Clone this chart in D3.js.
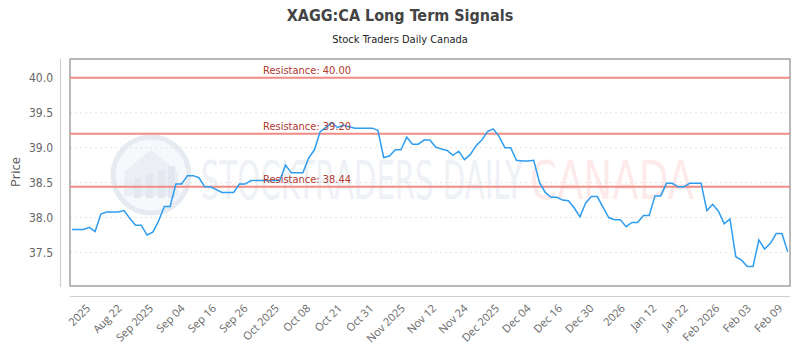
<!DOCTYPE html>
<html>
<head>
<meta charset="utf-8">
<script src="https://d3js.org/d3.v7.min.js"></script>
<style>
  body { margin: 0; background: #fff; }
  .title { font-family: "DejaVu Sans Condensed", "DejaVu Sans", sans-serif; font-weight: bold; font-size: 16px; fill: #444; text-anchor: middle; }
  .subtitle { font-family: "DejaVu Sans Condensed", "DejaVu Sans", sans-serif; font-size: 11px; fill: #222; text-anchor: middle; }
  .ytick { font-family: "DejaVu Sans Condensed", "DejaVu Sans", sans-serif; font-size: 12px; fill: #666; text-anchor: end; }
  .xtick { font-family: "Open Sans", sans-serif; font-size: 11px; fill: #666; text-anchor: end; }
  .ylabel { font-family: "Open Sans", sans-serif; font-size: 13px; fill: #555; text-anchor: middle; }
  .res-label { font-family: "DejaVu Sans Condensed", "DejaVu Sans", sans-serif; font-size: 11px; fill: #b03a2e; }
  .wm { font-family: "DejaVu Sans Condensed", "DejaVu Sans", sans-serif; font-size: 54px; }
</style>
</head>
<body>
<script>
// closing prices, one per trading day
var prices = [
  37.83, 37.83, 37.83, 37.86, 37.80, 38.05, 38.08, 38.08, 38.08, 38.10,
  37.99, 37.89, 37.89, 37.75, 37.79, 37.95, 38.16, 38.16, 38.48, 38.48,
  38.60, 38.60, 38.57, 38.44, 38.44, 38.40, 38.36, 38.36, 38.36, 38.48,
  38.48, 38.53, 38.53, 38.53, 38.53, 38.53, 38.53, 38.75, 38.64, 38.64,
  38.64, 38.85, 38.97, 39.23, 39.29, 39.36, 39.29, 39.32, 39.30, 39.28,
  39.28, 39.28, 39.28, 39.25, 38.86, 38.88, 38.97, 38.97, 39.15, 39.05,
  39.05, 39.11, 39.11, 39.01, 38.98, 38.96, 38.89, 38.95, 38.83, 38.90,
  39.03, 39.11, 39.23, 39.27, 39.16, 39.00, 39.00, 38.82, 38.81, 38.81,
  38.82, 38.50, 38.36, 38.29, 38.29, 38.25, 38.24, 38.14, 38.01, 38.21,
  38.30, 38.30, 38.15, 38.00, 37.97, 37.97, 37.87, 37.93, 37.93, 38.03,
  38.03, 38.31, 38.31, 38.49, 38.49, 38.44, 38.44, 38.49, 38.49, 38.49,
  38.10, 38.19, 38.09, 37.91, 37.98, 37.44, 37.39, 37.30, 37.30, 37.68,
  37.55, 37.63, 37.77, 37.77, 37.51
];

var resistance = [40.00, 39.20, 38.44];
var yTicks = [37.5, 38.0, 38.5, 39.0, 39.5, 40.0];
var xTickLabels = [
  "2025", "Aug 22", "Sep 2025", "Sep 04", "Sep 16", "Sep 26", "Oct 2025", "Oct 08",
  "Oct 21", "Oct 31", "Nov 2025", "Nov 12", "Nov 24", "Dec 2025", "Dec 04", "Dec 16",
  "Dec 30", "2026", "Jan 12", "Jan 22", "Feb 2026", "Feb 03", "Feb 09"
];
// first and last labelled tick, as a position along the trading days
var xTickSpan = [3.3, 123.2];

var width = 800, height = 350;
var plot = { left: 70, right: 790, top: 59, bottom: 286 };

var svg = d3.select("body").append("svg")
    .attr("width", width)
    .attr("height", height);

// titles
svg.append("text").attr("class", "title")
   .attr("x", 400).attr("y", 21)
   .text("XAGG:CA Long Term Signals");
svg.append("text").attr("class", "subtitle")
   .attr("x", 400).attr("y", 43)
   .text("Stock Traders Daily Canada");

// scales
var x = d3.scaleLinear().domain([0, prices.length - 1]).range([72, 787.7]);
var y = d3.scaleLinear().domain([37.02, 40.27]).range([plot.bottom, plot.top]);
var xt = d3.scalePoint().domain(xTickLabels).range([x(xTickSpan[0]), x(xTickSpan[1])]);

// watermark
var wm = svg.append("g").attr("class", "watermark");
wm.append("circle")
  .attr("cx", 151).attr("cy", 175).attr("r", 38)
  .attr("fill", "#f6f8fb").attr("stroke", "#e6eaf1").attr("stroke-width", 5);
wm.append("path")
  .attr("d", "M124,196 L124,172 L151,150 L178,172 L178,196 Z")
  .attr("fill", "#ebeff5");
[134, 146, 158, 168].forEach(function (bx, i) {
    wm.append("rect")
      .attr("x", bx).attr("y", 178 - i * 4).attr("width", 7).attr("height", 20 + i * 4)
      .attr("fill", "#e3e8f0");
});
wm.append("text").attr("class", "wm")
  .attr("x", 201).attr("y", 199)
  .attr("textLength", 322).attr("lengthAdjust", "spacingAndGlyphs")
  .attr("fill", "#eef1f6")
  .text("STOCKTRADERS DAILY");
wm.append("text").attr("class", "wm")
  .attr("x", 530).attr("y", 199)
  .attr("textLength", 164).attr("lengthAdjust", "spacingAndGlyphs")
  .attr("fill", "#feeaea")
  .text("CANADA");

// grid lines
svg.append("g").selectAll("line")
   .data(yTicks)
   .enter().append("line")
   .attr("x1", plot.left).attr("x2", plot.right)
   .attr("y1", function (d) { return y(d); })
   .attr("y2", function (d) { return y(d); })
   .attr("stroke", "#e4e4e4")
   .attr("stroke-dasharray", "2,3");

// plot frame
svg.append("rect")
   .attr("x", plot.left).attr("y", plot.top)
   .attr("width", plot.right - plot.left).attr("height", plot.bottom - plot.top)
   .attr("fill", "none").attr("stroke", "#8a8a8a").attr("stroke-width", 1.2);

// offset axis lines
svg.append("line")
   .attr("x1", 60.5).attr("x2", 60.5).attr("y1", plot.top).attr("y2", plot.bottom + 1)
   .attr("stroke", "#cfcfcf").attr("stroke-width", 1.2);
svg.append("line")
   .attr("x1", plot.left).attr("x2", plot.right).attr("y1", 296.5).attr("y2", 296.5)
   .attr("stroke", "#cfcfcf").attr("stroke-width", 1.2);

// y tick labels
svg.append("g").selectAll("text")
   .data(yTicks)
   .enter().append("text")
   .attr("class", "ytick")
   .attr("x", 53)
   .attr("y", function (d) { return y(d); })
   .attr("dy", "0.35em")
   .text(function (d) { return d.toFixed(1); });

svg.append("text").attr("class", "ylabel")
   .attr("transform", "translate(20,172) rotate(-90)")
   .text("Price");

// x tick labels
svg.append("g").selectAll("text")
   .data(xTickLabels)
   .enter().append("text")
   .attr("class", "xtick")
   .attr("transform", function (d) { return "translate(" + xt(d) + ",309) rotate(-45)"; })
   .text(function (d) { return d; });

// resistance lines
svg.append("g").selectAll("line")
   .data(resistance)
   .enter().append("line")
   .attr("x1", plot.left).attr("x2", plot.right)
   .attr("y1", function (d) { return y(d); })
   .attr("y2", function (d) { return y(d); })
   .attr("stroke", "#f08c84").attr("stroke-width", 2);

// price line
var line = d3.line()
    .x(function (d, i) { return x(i); })
    .y(function (d) { return y(d); });
svg.append("path")
   .datum(prices)
   .attr("d", line)
   .attr("fill", "none")
   .attr("stroke", "#2e9cf0")
   .attr("stroke-width", 1.5);

// resistance labels
svg.append("g").selectAll("text")
   .data(resistance)
   .enter().append("text")
   .attr("class", "res-label")
   .attr("x", 263)
   .attr("y", function (d) { return y(d) - 4; })
   .text(function (d) { return "Resistance: " + d.toFixed(2); });
</script>
</body>
</html>
